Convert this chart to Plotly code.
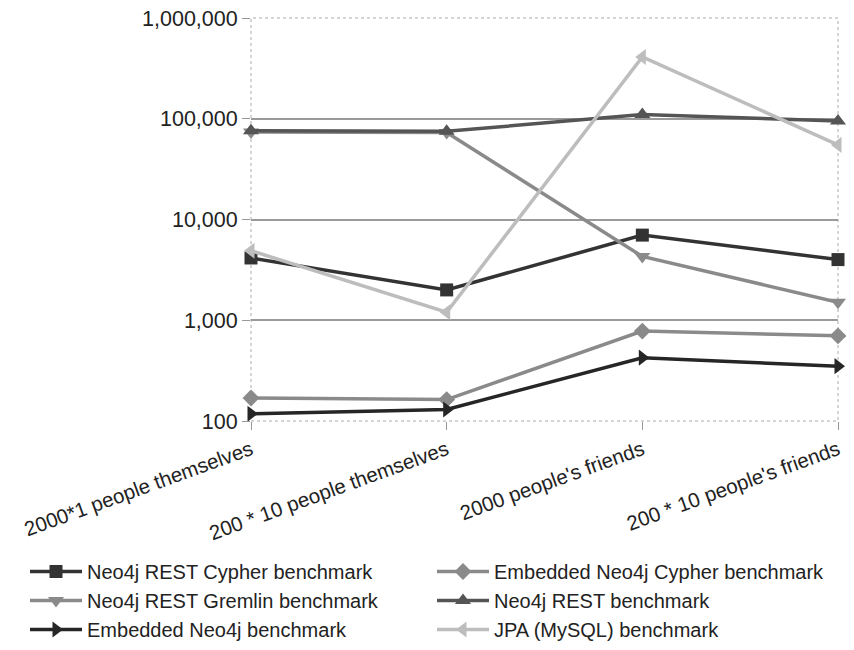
import plotly.graph_objects as go

categories = ["2000*1 people themselves", "200 * 10 people themselves",
              "2000 people's friends", "200 * 10 people's friends"]

rest_cypher = [4150, 2000, 7000, 4000]
embedded_cypher = [169, 163, 780, 700]
rest_gremlin = [74000, 73000, 4300, 1510]
rest = [76000, 75000, 110000, 95000]
embedded = [118, 130, 425, 350]
jpa = [4900, 1200, 410000, 55000]

ytick_vals = [100, 1000, 10000, 100000, 1000000]
ytick_text = ["100", "1,000", "10,000", "100,000", "1,000,000"]

series = [
    ("Neo4j REST Cypher benchmark", rest_cypher, "#333333", "square", 13),
    ("Embedded Neo4j Cypher benchmark", embedded_cypher, "#8a8a8a", "diamond", 13),
    ("Neo4j REST Gremlin benchmark", rest_gremlin, "#8a8a8a", "triangle-down", 14),
    ("Neo4j REST benchmark", rest, "#555555", "triangle-up", 14),
    ("Embedded Neo4j benchmark", embedded, "#262626", "triangle-right", 14),
    ("JPA (MySQL) benchmark", jpa, "#bdbdbd", "triangle-left", 14),
]

fig = go.Figure()
for name, vals, color, sym, size in series:
    fig.add_trace(go.Scatter(
        x=categories, y=vals, name=name, mode="lines+markers",
        line=dict(color=color, width=3.5),
        marker=dict(symbol=sym, size=size, color=color),
        cliponaxis=False,
    ))

fig.update_layout(
    width=854, height=650,
    margin=dict(l=243, r=24, t=10, b=237, autoexpand=False),
    plot_bgcolor="white", paper_bgcolor="white",
    font=dict(family="Liberation Sans, Arial, sans-serif", size=20, color="#222222"),
    showlegend=True,
    legend=dict(orientation="h",
                x=-0.385, xanchor="left", y=-0.325, yanchor="top",
                entrywidth=340, entrywidthmode="pixels", traceorder="normal",
                font=dict(size=20), itemwidth=52, tracegroupgap=0,
                bgcolor="rgba(0,0,0,0)"),
    xaxis=dict(type="category", range=[0, 3], tickangle=-20, automargin=False,
               showgrid=False, ticklabeloverflow="allow", tickfont=dict(size=20.5),
               ticks="outside", ticklen=8, tickcolor="#999999",
               showline=False, zeroline=False),
    yaxis=dict(type="log", range=[2, 6], tickvals=ytick_vals, ticktext=ytick_text,
               automargin=False, ticklabeloverflow="allow", tickfont=dict(size=21.5),
               showgrid=True, gridcolor="#9a9a9a", gridwidth=1.5,
               ticks="outside", ticklen=8, tickcolor="#999999",
               showline=False, zeroline=False),
)

fig.add_shape(type="rect", xref="paper", yref="paper", x0=0, y0=0, x1=1, y1=1,
              line=dict(color="#aaaaaa", width=1, dash="dot"), layer="below")

fig.write_html("out.html")
